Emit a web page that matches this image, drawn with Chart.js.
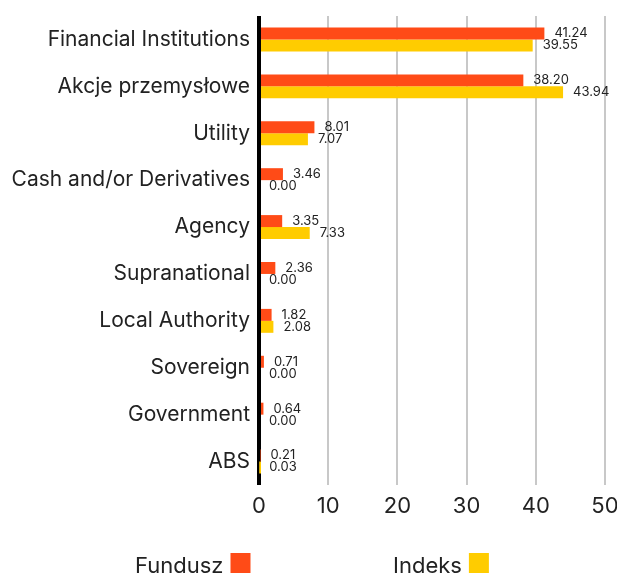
<!DOCTYPE html>
<html>
<head>
<meta charset="utf-8">
<script src="https://cdn.jsdelivr.net/npm/chart.js@4"></script>
<style>
  html, body { margin: 0; padding: 0; background: #fff; }
  #wrap { width: 617px; height: 577px; }
</style>
</head>
<body>
<div id="wrap"><canvas id="chart" width="617" height="577"></canvas></div>
<script>
// Chart data
const categories = [
  'Financial Institutions', 'Akcje przemysłowe', 'Utility', 'Cash and/or Derivatives',
  'Agency', 'Supranational', 'Local Authority', 'Sovereign', 'Government', 'ABS'
];
const fundValues = [41.24, 38.20, 8.01, 3.46, 3.35, 2.36, 1.82, 0.71, 0.64, 0.21];
const indexValues = [39.55, 43.94, 7.07, 0.00, 7.33, 0.00, 2.08, 0.00, 0.00, 0.03];
const seriesNames = ['Fundusz', 'Indeks'];
const xTicks = [0, 10, 20, 30, 40, 50];

const Palette = {
  fund: '#ff4b17',
  index: '#ffcc00',
  text: '#222222',
  grid: '#c8c8c8',
  axis: '#000000'
};
const FONT = 'Inter';

// value labels to the right of each bar
const valueLabels = {
  id: 'valueLabels',
  afterDatasetsDraw(chart) {
    const ctx = chart.ctx;
    ctx.save();
    ctx.font = '13px ' + FONT;
    ctx.fillStyle = Palette.text;
    ctx.textAlign = 'left';
    ctx.textBaseline = 'middle';
    chart.data.datasets.forEach((ds, i) => {
      const meta = chart.getDatasetMeta(i);
      meta.data.forEach((bar, j) => {
        ctx.fillText(ds.data[j].toFixed(2), bar.x + 10, bar.y);
      });
    });
    ctx.restore();
  }
};

// legend: text followed by a square swatch
const bottomLegend = {
  id: 'bottomLegend',
  afterDraw(chart) {
    const ctx = chart.ctx;
    const items = [
      { label: seriesNames[0], color: Palette.fund, x: 135 },
      { label: seriesNames[1], color: Palette.index, x: 393 }
    ];
    ctx.save();
    ctx.font = '22px ' + FONT;
    ctx.textBaseline = 'middle';
    ctx.textAlign = 'left';
    items.forEach(it => {
      ctx.fillStyle = Palette.text;
      ctx.fillText(it.label, it.x, 566);
      const w = ctx.measureText(it.label).width;
      ctx.fillStyle = it.color;
      ctx.fillRect(it.x + w + 7, 553, 20, 20);
    });
    ctx.restore();
  }
};

new Chart(document.getElementById('chart'), {
  type: 'bar',
  data: {
    labels: categories,
    datasets: [
      { label: seriesNames[0], data: fundValues, backgroundColor: Palette.fund },
      { label: seriesNames[1], data: indexValues, backgroundColor: Palette.index }
    ]
  },
  options: {
    indexAxis: 'y',
    responsive: false,
    animation: false,
    layout: { padding: { top: 16, bottom: 52, left: 0, right: 0 } },
    datasets: { bar: { barPercentage: 1, categoryPercentage: 0.51 } },
    plugins: {
      legend: { display: false },
      tooltip: { enabled: false }
    },
    scales: {
      x: {
        min: 0,
        max: 50,
        afterBuildTicks(scale) { scale.ticks = xTicks.map(v => ({ value: v })); },
        afterFit(scale) { scale.height = 40; scale.paddingRight = 12; },
        border: { display: false },
        grid: {
          drawTicks: false,
          color: c => c.tick && c.tick.value === 0 ? Palette.axis : Palette.grid,
          lineWidth: c => c.tick && c.tick.value === 0 ? 4 : 2
        },
        ticks: { color: Palette.text, padding: 8, font: { family: FONT, size: 22 } }
      },
      y: {
        afterFit(scale) { scale.width = 259; scale.paddingTop = 0; scale.paddingBottom = 0; },
        border: { display: false },
        grid: { display: false, drawTicks: false },
        ticks: { color: Palette.text, padding: 9, font: { family: FONT, size: 21 } }
      }
    }
  },
  plugins: [valueLabels, bottomLegend]
});
</script>
</body>
</html>
